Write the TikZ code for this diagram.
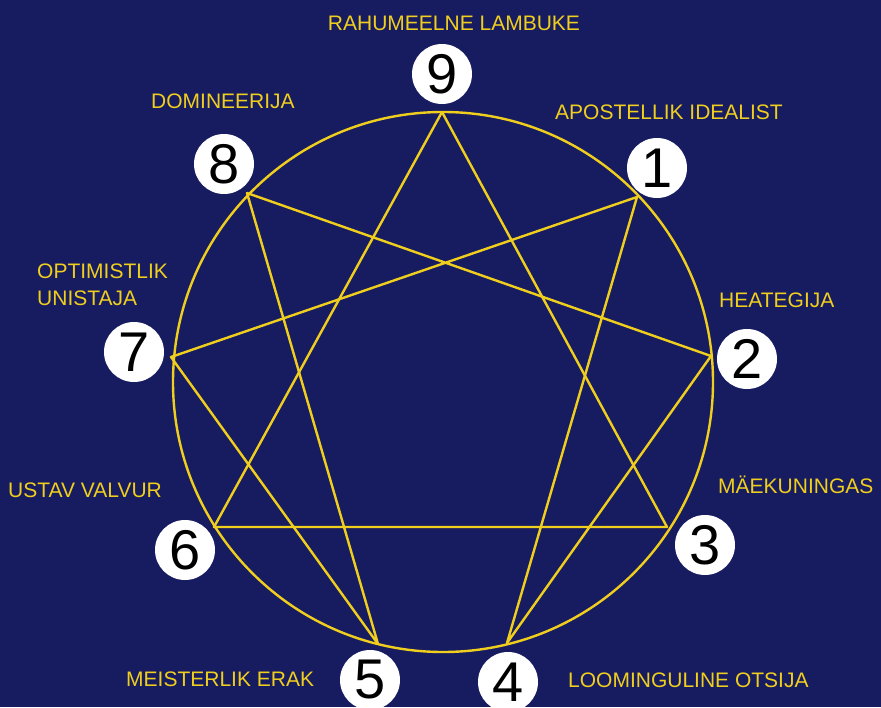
\documentclass[tikz,border=0pt]{standalone}
\usepackage{fontspec}
\setmainfont{Liberation Sans}
\definecolor{navy}{RGB}{23,28,96}
\definecolor{gold}{RGB}{240,206,30}
\tikzset{
  num/.style={circle, fill=white, minimum size=60pt, inner sep=0pt, text=black, font=\fontsize{56}{56}\selectfont},
  lbl/.style={anchor=base west, inner sep=0pt, text=gold, font=\fontsize{21}{27}\selectfont, align=left},
  edge/.style={gold, line width=2.4pt, line join=round}
}
\begin{document}
\begin{tikzpicture}[x=1pt, y=-1pt]
  \fill[navy] (0,0) rectangle (881,707);
  \useasboundingbox (0,0) rectangle (881,707);
  % outer ring
  \node[draw=gold, line width=2.4pt, circle, minimum size=540pt, inner sep=0pt] (ring) at (443,382){};
  % points on the ring
  \coordinate (p9) at (442,112);
  \coordinate (p1) at (637,197);
  \coordinate (p2) at (711,356);
  \coordinate (p3) at (667,527);
  \coordinate (p4) at (507,643);
  \coordinate (p5) at (378,644);
  \coordinate (p6) at (214,527);
  \coordinate (p7) at (171,357);
  \coordinate (p8) at (247,193);
  % triangle and hexad
  \draw[edge] (p9) -- (p3) -- (p6) -- cycle;
  \draw[edge] (p1) -- (p4) -- (p2) -- (p8) -- (p5) -- (p7) -- cycle;
  % numbers
  \node[num] (n9) at (442,74){9};
  \node[num] (n1) at (657,168){1};
  \node[num] (n2) at (747,359){2};
  \node[num] (n3) at (705,545){3};
  \node[num] (n4) at (508,682){4};
  \node[num] (n5) at (370,680){5};
  \node[num] (n6) at (185,550){6};
  \node[num] (n7) at (134,352){7};
  \node[num] (n8) at (224,164){8};
  % types
  \node[lbl, anchor=base] (t9) at (454,30){RAHUMEELNE LAMBUKE};
  \node[lbl] (t1) at (555,119){APOSTELLIK IDEALIST};
  \node[lbl] (t2) at (719,307){HEATEGIJA};
  \node[lbl] (t3) at (718,493){MÄEKUNINGAS};
  \node[lbl] (t4) at (568,687){LOOMINGULINE OTSIJA};
  \node[lbl] (t5) at (126,686){MEISTERLIK ERAK};
  \node[lbl] (t6) at (8,497){USTAV VALVUR};
  \node[lbl] (t7) at (37,305){OPTIMISTLIK\\UNISTAJA};
  \node[lbl] (t8) at (151,108){DOMINEERIJA};
\end{tikzpicture}
\end{document}
